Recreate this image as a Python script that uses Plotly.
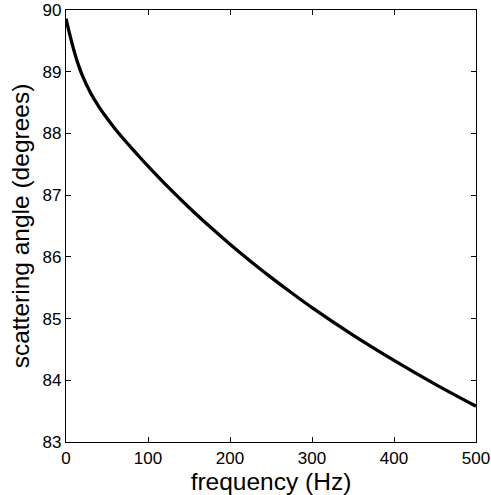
import plotly.graph_objects as go

frequency_hz = [0, 5, 10, 15, 20, 30, 40, 50, 60, 70, 80, 90, 100,
                125, 150, 175, 200, 225, 250, 275, 300, 350, 400, 450, 500]
scattering_angle_deg = [89.86, 89.58, 89.33, 89.115, 88.935, 88.655, 88.435,
                        88.245, 88.073, 87.913, 87.761, 87.614, 87.471,
                        87.125, 86.80, 86.495, 86.205, 85.93, 85.668, 85.418,
                        85.178, 84.733, 84.323, 83.938, 83.58]
x_ticks = [0, 100, 200, 300, 400, 500]
y_ticks = [83, 84, 85, 86, 87, 88, 89, 90]

fig = go.Figure()
fig.add_trace(go.Scatter(
    x=frequency_hz, y=scattering_angle_deg, mode="lines",
    line=dict(color="black", width=3.3, shape="spline", smoothing=1.0),
    showlegend=False, hoverinfo="skip",
))

font_family = "Liberation Sans, Arial, Helvetica, sans-serif"
axis_common = dict(
    showgrid=False, zeroline=False, showline=True, linecolor="black",
    linewidth=1.3, mirror="ticks", ticks="inside", ticklen=5,
    tickcolor="black", tickwidth=1,
    tickfont=dict(family=font_family, size=17, color="black"),
)
fig.update_layout(
    width=491, height=495,
    margin=dict(l=66, r=15, t=10, b=53, autoexpand=False),
    paper_bgcolor="white", plot_bgcolor="white",
    xaxis=dict(range=[0, 500], tickvals=x_ticks,
               title=dict(text="frequency (Hz)", standoff=1,
                          font=dict(family=font_family, size=24.5, color="black")),
               **axis_common),
    yaxis=dict(range=[83, 90], tickvals=y_ticks,
               title=dict(text="scattering angle (degrees)", standoff=5,
                          font=dict(family=font_family, size=24.5, color="black")),
               **axis_common),
)
fig.write_html("out.html", config={"displayModeBar": False},
               post_script="document.body.style.margin='0px';document.body.style.overflow='hidden';")
